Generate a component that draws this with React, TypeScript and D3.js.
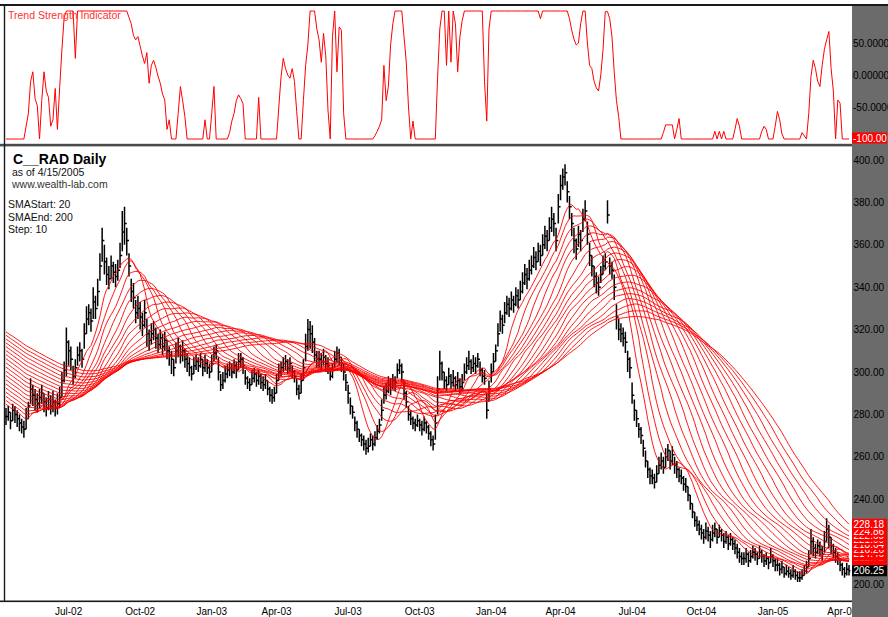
import React from 'react';
import * as d3 from 'd3';

// ---------- DATA (2-trading-day bars, Apr 2002 .. Apr 15 2005) ----------
const closes = [
  279, 281, 277, 282, 280, 278, 276, 274, 273, 278,
  284, 292, 289, 287, 285, 288, 290, 286, 283, 287,
  284, 286, 283, 285, 288, 296, 301, 314, 310, 306,
  298, 302, 308, 310, 306, 318, 325, 328, 324, 333,
  330, 338, 350, 362, 352, 346, 344, 350, 347, 345,
  348, 355, 366, 370, 362, 350, 338, 335, 328, 330,
  326, 322, 328, 318, 315, 318, 320, 316, 313, 316,
  312, 315, 310, 308, 306, 302, 310, 312, 308, 310,
  306, 304, 302, 299, 303, 305, 303, 306, 302, 304,
  302, 300, 304, 309, 310, 300, 294, 296, 299, 301,
  302, 300, 303, 301, 305, 306, 303, 297, 295, 294,
  297, 299, 296, 298, 295, 294, 296, 292, 289, 288,
  290, 296, 300, 302, 304, 305, 302, 304, 300, 298,
  292, 290, 296, 302, 312, 320, 318, 314, 308, 306,
  306, 305, 307, 304, 303, 298, 301, 306, 309, 307,
  304, 300, 295, 290, 284, 281, 276, 273, 270, 268,
  266, 264, 265, 268, 266, 269, 272, 275, 282, 289,
  291, 294, 293, 296, 295, 301, 303, 300, 290, 286,
  280, 278, 276, 275, 277, 275, 273, 276, 274, 271,
  268, 266, 276, 292, 304, 300, 296, 294, 298, 295,
  297, 294, 296, 293, 295, 300, 303, 305, 302, 304,
  303, 306, 301, 298, 297, 282, 292, 300, 305, 310,
  318, 325, 322, 328, 332, 330, 334, 332, 336, 334,
  338, 342, 346, 344, 348, 350, 354, 352, 357, 355,
  360, 364, 362, 368, 372, 370, 362, 378, 388, 392,
  394, 385, 378, 370, 362, 358, 365, 362, 372, 376,
  365, 355, 350, 345, 342, 340, 346, 350, 352, 374,
  350, 348, 340, 326, 320, 318, 316, 314, 306, 302,
  289, 282, 278, 273, 270, 264, 258, 254, 251, 250,
  248, 252, 256, 258, 255, 260, 263, 258, 261, 256,
  254, 251, 250, 247, 246, 242, 238, 234, 230, 228,
  226, 224, 222, 225, 223, 221, 224, 226, 222, 225,
  223, 220, 222, 219, 221, 219, 217, 215, 213, 212,
  212, 214, 211, 213, 215, 214, 212, 215, 213, 211,
  212, 210, 213, 211, 209, 209, 207, 208, 205, 206,
  205, 204, 206, 204, 203, 203, 204, 206, 208, 212,
  220, 217, 215, 218, 216, 214, 220, 226, 222, 218,
  215, 213, 212, 209, 207, 205, 207, 206.25,
];

const highs = [
  283, 284, 281, 285, 284, 282, 280, 278, 277, 283,
  286, 297, 294, 292, 290, 292, 294, 290, 288, 291,
  289, 291, 287, 290, 293, 300, 305, 321, 315, 312,
  303, 306, 312, 314, 311, 323, 331, 332, 330, 340,
  336, 344, 356, 368, 360, 354, 350, 355, 352, 351,
  353, 361, 376, 378, 368, 356, 344, 342, 334, 336,
  333, 328, 334, 325, 320, 323, 324, 321, 318, 320,
  318, 319, 315, 312, 310, 306, 314, 316, 313, 315,
  311, 309, 307, 303, 307, 308, 307, 309, 306, 308,
  306, 304, 308, 312, 313, 307, 299, 300, 303, 304,
  305, 304, 306, 305, 309, 309, 307, 301, 298, 297,
  301, 302, 300, 301, 299, 298, 299, 296, 293, 292,
  293, 299, 304, 305, 307, 308, 306, 307, 303, 301,
  297, 294, 299, 306, 318, 325, 324, 322, 316, 310,
  310, 309, 311, 308, 307, 302, 304, 310, 312, 311,
  307, 304, 299, 294, 288, 284, 279, 277, 273, 271,
  270, 268, 269, 271, 270, 272, 275, 278, 287, 293,
  295, 298, 297, 299, 298, 304, 306, 304, 296, 291,
  284, 282, 279, 278, 280, 278, 277, 279, 277, 275,
  272, 270, 280, 298, 310, 305, 300, 298, 302, 299,
  301, 298, 300, 297, 299, 304, 307, 310, 306, 308,
  307, 309, 305, 302, 301, 290, 296, 304, 309, 313,
  323, 329, 327, 333, 336, 335, 338, 336, 340, 339,
  343, 347, 351, 349, 353, 355, 359, 357, 361, 360,
  365, 369, 367, 373, 378, 375, 368, 384, 393, 396,
  398, 390, 383, 375, 368, 363, 369, 367, 377, 381,
  371, 361, 355, 350, 347, 345, 350, 355, 356, 381,
  354, 352, 346, 332, 325, 323, 321, 319, 310, 307,
  295, 287, 282, 276, 274, 268, 263, 258, 255, 254,
  252, 256, 260, 262, 260, 264, 266, 263, 265, 260,
  258, 255, 254, 251, 250, 246, 242, 238, 234, 232,
  230, 228, 226, 229, 227, 225, 228, 229, 226, 228,
  226, 224, 225, 223, 224, 222, 221, 219, 217, 215,
  215, 217, 215, 216, 218, 217, 215, 218, 216, 214,
  215, 213, 217, 214, 212, 212, 210, 211, 208, 209,
  208, 207, 209, 207, 206, 206, 207, 209, 211, 216,
  226, 222, 219, 221, 220, 218, 225, 231, 228, 222,
  219, 217, 215, 212, 210, 208, 210, 209,
];

const lows = [
  275, 277, 273, 277, 276, 274, 272, 271, 269, 273,
  278, 285, 284, 282, 281, 283, 285, 281, 279, 282,
  280, 281, 279, 280, 283, 288, 295, 298, 303, 301,
  294, 297, 303, 305, 302, 311, 318, 322, 319, 325,
  325, 331, 343, 352, 346, 341, 339, 344, 342, 340,
  343, 349, 357, 360, 355, 345, 333, 330, 323, 325,
  320, 317, 321, 312, 310, 313, 315, 311, 309, 311,
  308, 310, 306, 303, 299, 298, 304, 307, 304, 305,
  302, 300, 298, 296, 299, 301, 300, 302, 298, 300,
  299, 297, 300, 305, 306, 296, 291, 292, 295, 297,
  298, 297, 299, 297, 301, 302, 299, 294, 292, 291,
  294, 295, 293, 294, 292, 291, 292, 289, 286, 285,
  286, 290, 296, 298, 300, 301, 299, 300, 297, 295,
  289, 287, 290, 296, 305, 310, 311, 309, 305, 302,
  302, 301, 303, 300, 299, 296, 297, 302, 304, 303,
  300, 296, 291, 285, 280, 278, 272, 269, 267, 265,
  263, 261, 262, 265, 263, 265, 268, 271, 277, 285,
  287, 290, 289, 292, 291, 297, 299, 295, 287, 283,
  277, 275, 273, 272, 274, 272, 270, 272, 271, 268,
  265, 263, 268, 280, 296, 296, 292, 291, 294, 292,
  293, 291, 292, 290, 291, 296, 299, 301, 299, 300,
  299, 302, 298, 295, 294, 278, 286, 295, 300, 305,
  312, 319, 318, 323, 327, 326, 329, 328, 331, 330,
  334, 337, 341, 339, 343, 346, 349, 348, 352, 350,
  355, 358, 357, 362, 366, 364, 357, 370, 381, 386,
  388, 380, 372, 364, 356, 353, 359, 357, 366, 371,
  360, 350, 345, 340, 337, 336, 342, 346, 348, 370,
  346, 344, 334, 320, 315, 314, 312, 309, 300, 297,
  285, 277, 274, 269, 266, 260, 255, 250, 247, 247,
  245, 248, 252, 254, 252, 255, 258, 254, 256, 252,
  250, 248, 247, 244, 243, 239, 235, 231, 227, 225,
  223, 221, 219, 221, 220, 217, 220, 222, 219, 222,
  220, 217, 219, 216, 218, 216, 214, 212, 210, 209,
  209, 210, 208, 210, 212, 211, 209, 212, 210, 208,
  209, 207, 210, 208, 206, 206, 204, 205, 203, 204,
  203, 202, 203, 202, 201, 201, 202, 204, 205, 208,
  214, 213, 212, 214, 213, 211, 215, 220, 217, 214,
  212, 210, 209, 206, 204, 203, 204, 204,
];

// closes before the visible window, each value covers 10 trading days (5 bars)
const preWindowBlocks = [348, 350, 347, 343, 340, 337, 334, 331, 327, 323, 319, 315, 311, 307, 303, 299, 295, 291, 287, 284];

const tsi = [
  -100, -100, -100, -100, -100, -100, -100, -100, -100, -80,
  -60, -10, 5, -37, -48, -100, -40, 5, -25, -35,
  -80, -70, -21, -85, -20, 39, 90, 100, 100, 100,
  100, 26, 100, 100, 100, 100, 100, 100, 100, 100,
  100, 100, 100, 100, 100, 100, 100, 100, 100, 100,
  100, 100, 100, 100, 100, 90, 80, 62, 55, 60,
  45, 30, 18, 35, -13, 15, 23, 12, -2, -13,
  -30, -39, -85, -70, -100, -100, -100, -60, -18, -40,
  -65, -100, -100, -100, -100, -100, -100, -100, -100, -70,
  -100, -100, -60, -18, -100, -100, -100, -100, -100, -100,
  -90, -72, -60, -40, -31, -37, -45, -100, -100, -100,
  -100, -100, -100, -35, -100, -100, -100, -100, -100, -100,
  -100, -100, -50, -3, 26, 10, 0, -5, 10, -10,
  -57, -100, -100, -40, 15, 47, 100, 100, 100, 72,
  55, 20, 65, 30, -55, -100, 60, 100, 5, 75,
  70, -60, -100, -100, -100, -100, -100, -100, -100, -100,
  -100, -100, -100, -100, -100, -95, -88, -80, -70, 15,
  -40, -18, 47, 80, 100, 100, 100, 100, 60, 20,
  -50, -100, -72, -100, -100, -100, -100, -100, -100, -100,
  -100, -100, -100, -5, 72, 100, 100, 15, 100, 20,
  100, 80, 5, 60, 85, 100, 100, 100, 100, 100,
  100, 100, 100, 100, -10, -72, 72, 100, 100, 100,
  100, 100, 100, 100, 100, 100, 100, 100, 100, 100,
  100, 100, 100, 100, 100, 100, 100, 100, 100, 88,
  100, 100, 100, 100, 100, 100, 100, 100, 100, 100,
  100, 100, 88, 70, 56, 47, 50, 80, 100, 100,
  50, 15, 10, -10, -20, -25, 0, 40, 99, 99,
  88, 60, 5, -40, -65, -100, -100, -100, -100, -100,
  -100, -100, -100, -100, -100, -100, -100, -100, -100, -100,
  -100, -100, -100, -100, -90, -78, -78, -78, -78, -100,
  -85, -68, -100, -100, -100, -100, -100, -100, -100, -100,
  -100, -100, -100, -100, -100, -100, -100, -88, -100, -88,
  -100, -88, -100, -100, -100, -100, -85, -68, -80, -100,
  -100, -100, -100, -100, -100, -100, -100, -100, -88, -80,
  -85, -100, -100, -100, -80, -57, -70, -92, -100, -100,
  -100, -100, -100, -100, -100, -100, -90, -95, -100, -60,
  -2, 23, 10, -10, -18, 15, 40, 55, 68, 10,
  -25, -100, -39, -44, -100, -100, -100, -100,
];

const smaPeriods = [20, 30, 40, 50, 60, 70, 80, 90, 100, 110, 120, 130, 140, 150, 160, 170, 180, 190, 200];
const daysPerBar = 2;
const blockBars = 5;

const priceTicks = [200, 220, 240, 260, 280, 300, 320, 340, 360, 380, 400];
const tsiTickValues = [50, 0, -50];
const tsiTickLabels = ['50.000000', '0.0000000', '-50.000000'];
const dateLabels = ['Jul-02', 'Oct-02', 'Jan-03', 'Apr-03', 'Jul-03', 'Oct-03', 'Jan-04', 'Apr-04', 'Jul-04', 'Oct-04', 'Jan-05', 'Apr-05'];
const dateBars = [28, 60, 92, 121, 153, 185, 217, 248, 280, 311, 343, 374];

const FONT = 'Liberation Sans, Arial, sans-serif';

export default function App() {
  const W = 888;
  const H = 617;
  const axisX = 852;
  const N = closes.length;

  const x = d3.scaleLinear().domain([0, N - 1]).range([6, 849]);
  const yP = d3.scaleLinear().domain([200, 400]).range([584, 160]);
  const yT = d3.scaleLinear().domain([-100, 100]).range([139, 11]);

  const pre: number[] = preWindowBlocks.flatMap((v) => Array(blockBars).fill(v));
  const ext = [...pre, ...closes];
  const off = pre.length;

  const smas = smaPeriods.map((p) => {
    const n = p / daysPerBar;
    return closes.map((_, i) => d3.mean(ext.slice(off + i - n + 1, off + i + 1)) as number);
  });

  const priceLine = d3
    .line<number>()
    .x((_, i) => x(i))
    .y((v) => yP(v));
  const tsiLine = d3
    .line<number>()
    .x((_, i) => x(i))
    .y((v) => yT(v));

  let barPath = '';
  closes.forEach((c, i) => {
    const xi = x(i);
    const o = i > 0 ? closes[i - 1] : c;
    barPath += `M${xi.toFixed(2)},${yP(highs[i]).toFixed(2)}V${yP(lows[i]).toFixed(2)}`;
    barPath += `M${(xi - 1.4).toFixed(2)},${yP(o).toFixed(2)}H${xi.toFixed(2)}`;
    barPath += `M${xi.toFixed(2)},${yP(c).toFixed(2)}H${(xi + 1.4).toFixed(2)}`;
  });

  const lastSma = smas
    .map((s) => s[s.length - 1])
    .slice()
    .sort((a, b) => a - b);
  const lastClose = closes[N - 1];
  const lastTsi = tsi[tsi.length - 1];

  return (
    <svg
      width={W}
      height={H}
      style={{ position: 'absolute', left: 0, top: 0, background: '#fff' }}
      fontFamily={FONT}
    >
      <defs>
        <clipPath id="clipP">
          <rect x={5} y={147} width={axisX - 5} height={453} />
        </clipPath>
        <clipPath id="clipT">
          <rect x={5} y={6} width={axisX - 5} height={138} />
        </clipPath>
      </defs>
      <rect x={0} y={0} width={W} height={H} fill="#fff" />

      {/* date labels (drawn before gray axis so Apr-05 is cut) */}
      {dateLabels.map((d, i) => (
        <text key={d} x={x(dateBars[i])} y={615} fontSize={10} textAnchor="middle" fill="#000">
          {d}
        </text>
      ))}

      {/* TSI panel */}
      <g clipPath="url(#clipT)">
        <path d={tsiLine(tsi) || ''} fill="none" stroke="#ff0000" strokeWidth={1} />
      </g>
      <text x={8} y={18.5} fontSize={10.5} fill="#ff3030">
        Trend Strength Indicator
      </text>

      {/* Price panel */}
      <g clipPath="url(#clipP)">
        <path d={barPath} fill="none" stroke="#000" strokeWidth={1.5} />
        {smas.map((s, i) => (
          <path key={i} d={priceLine(s) || ''} fill="none" stroke="#ff0000" strokeWidth={0.9} />
        ))}
      </g>

      <text x={13} y={164} fontSize={14} fontWeight="bold" fill="#000">
        C__RAD Daily
      </text>
      <text x={12} y={176} fontSize={10.5} fill="#111">
        as of 4/15/2005
      </text>
      <text x={12} y={187.5} fontSize={10.5} fill="#333">
        www.wealth-lab.com
      </text>
      <text x={8} y={208} fontSize={10.5} fill="#111">
        SMAStart: 20
      </text>
      <text x={8} y={220.5} fontSize={10.5} fill="#111">
        SMAEnd: 200
      </text>
      <text x={8} y={233} fontSize={10.5} fill="#111">
        Step: 10
      </text>

      {/* frame */}
      <rect x={0} y={4} width={W} height={2} fill="#1a1a1a" />
      <rect x={0} y={143.8} width={axisX} height={2.6} fill="#4a4a4a" />
      <rect x={0} y={600.5} width={axisX} height={1.6} fill="#1a1a1a" />
      <rect x={3.8} y={5} width={1.4} height={596} fill="#1a1a1a" />

      {/* right axis */}
      <rect x={axisX} y={6} width={W - axisX} height={H - 6} fill="#6b6b6b" />
      {tsiTickValues.map((v, i) => (
        <text key={v} x={axisX + 1} y={yT(v) + 3.6} fontSize={10} fill="#000">
          {tsiTickLabels[i]}
        </text>
      ))}
      <rect x={axisX} y={yT(lastTsi) - 6.5} width={35} height={11} fill="#ff0000" />
      <text x={axisX + 1} y={yT(lastTsi) + 2.6} fontSize={10} fill="#fff">
        {lastTsi.toFixed(2)}
      </text>

      {priceTicks.map((v) => (
        <text key={v} x={axisX + 1.5} y={yP(v) + 3.6} fontSize={10} fill="#000">
          {v.toFixed(2)}
        </text>
      ))}
      {lastSma.map((v, i) => (
        <g key={i}>
          <rect x={axisX} y={yP(v) - 5.5} width={35} height={11} fill="#ff0000" />
          <text x={axisX + 1.5} y={yP(v) + 3.6} fontSize={10} fill="#fff">
            {v.toFixed(2)}
          </text>
        </g>
      ))}
      <rect x={axisX} y={yP(lastClose) - 5.5} width={35} height={11} fill="#000" />
      <text x={axisX + 1.5} y={yP(lastClose) + 3.6} fontSize={10} fill="#fff">
        {lastClose.toFixed(2)}
      </text>
    </svg>
  );
}
